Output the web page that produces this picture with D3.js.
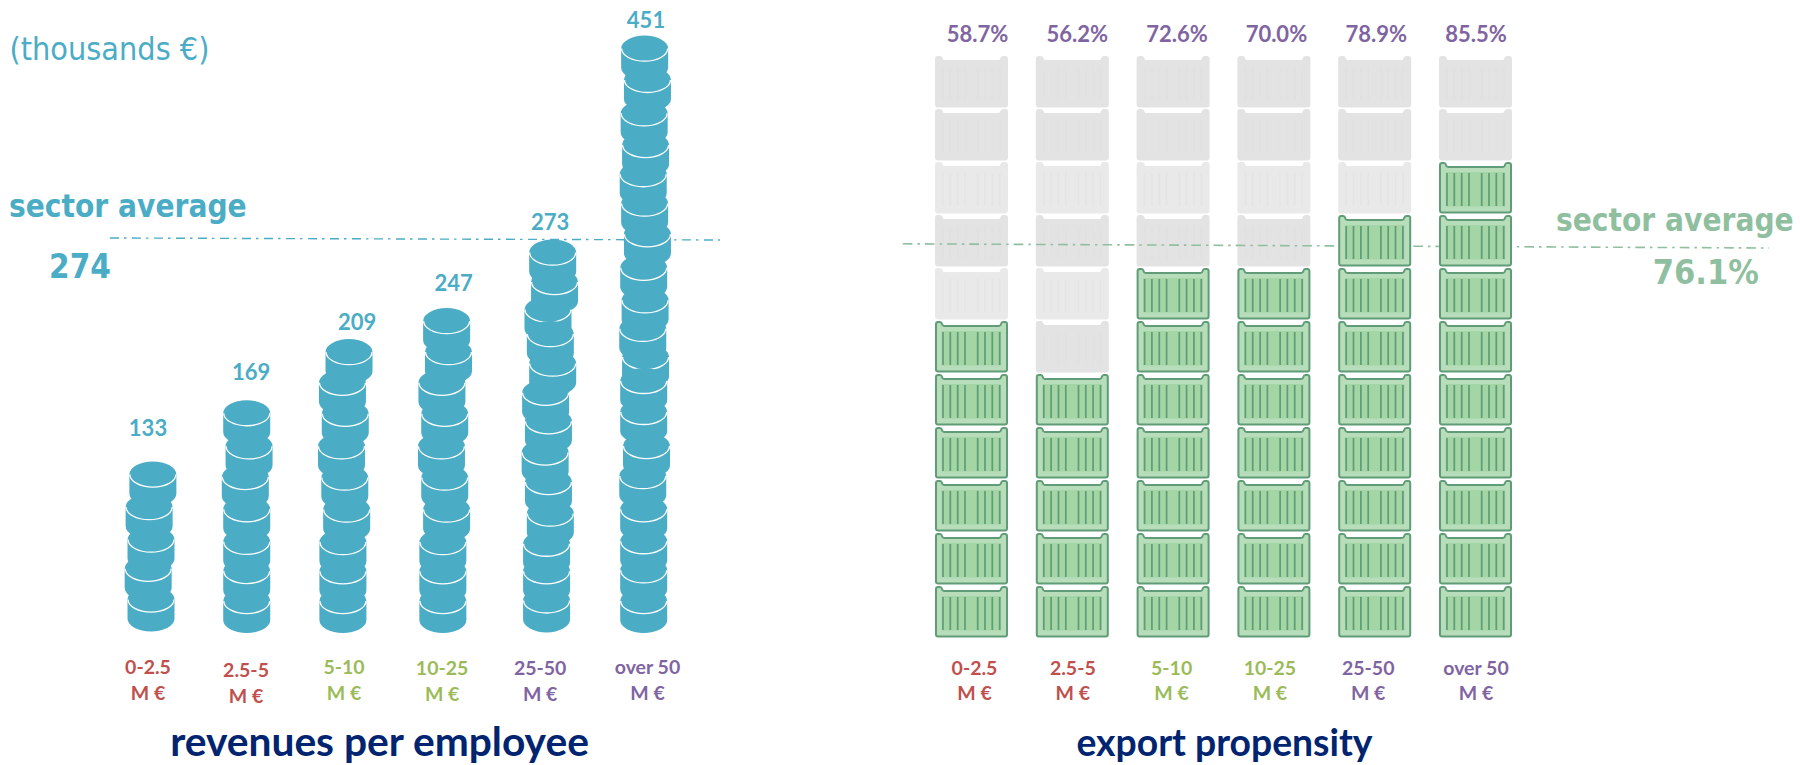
<!DOCTYPE html>
<html><head><meta charset="utf-8">
<script src="https://d3js.org/d3.v7.min.js"></script>
<style>html,body{margin:0;padding:0;background:#fff}svg{display:block}
.cal{font-family:Lato,sans-serif;font-weight:700}
.tah{font-family:"DejaVu Sans",sans-serif;font-stretch:condensed}</style>
</head><body><svg id="c" width="1800" height="765"></svg>
<script>
// ---- data ----
const categories = ["0-2.5","2.5-5","5-10","10-25","25-50","over 50"];
const unitLabel = "M €";
const revenuePerEmployee = [133,169,209,247,273,451];
const revenueAverage = 274;
const exportPropensity = [58.7,56.2,72.6,70.0,78.9,85.5];
const exportAverage = 76.1;
const containersFilled = [6,5,7,7,8,9];
const containerRows = 11;
// rise of each coin above the one below, in % of a regular coin step (bottom coin first)
const coinRise = [
 [5,99,94,105,105],
 [0,97,94,105,104,99,107],
 [0,96,94,105,103,101,105,100,99],
 [0,96,94,105,103,101,105,100,99,100],
 [2,94,89,97,102,95,101,92,94,95,79,89,95],
 [0,99,94,103,107,97,110,100,77,91,92,105,108,99,95,94,102,108,101]
];
// sideways drift of each coin, in % of a coin width
const coinDrift = [
 [0,-6,0,-4,4],
 [0,0,0,0,-3,5,0],
 [0,0,0,8,4,-3,5,-1,13],
 [0,0,0,8,4,-3,4,-2,12,8],
 [0,0,0,8,4,-3,4,-2,13,8,3,17,13],
 [0,0,0,0,-2,6,0,0,4,-2,3,0,8,2,-1,4,1,8,2]
];
const stackDrift = [0,-6,-11,-8,3,0];
const catColors = ["#C0504D","#C0504D","#9BBB59","#9BBB59","#8064A2","#8064A2"];

// ---- layout & style ----
const COIN="#4BACC6", AVG_G="#8FBF9F", NAVY="#00246F", PURPLE="#8064A2";
const coinW=47, coinRy=13, coinSide=19, coinStep=31;
const svg=d3.select("#c");

// ---- scales ----
const xL=d3.scalePoint().domain(categories).range([151,643.7]);
const xR=d3.scalePoint().domain(categories).range([971.5,1475.5]);
const yCoin=d3.scaleLinear().domain([0,100]).range([588,588-coinStep]);
const driftX=d3.scaleLinear().domain([0,100]).range([0,coinW]);
const yRev=d3.scaleLinear().domain([revenueAverage,451]).range([239,36]);
const yExp=d3.scaleLinear().domain([exportAverage,100]).range([246,56]);
const yRow=d3.scaleBand().domain(d3.range(containerRows)).range([637.5,56]).paddingInner(0.0283);

// ---- left: average line ----
svg.append("line").attr("x1",110).attr("x2",720)
  .attr("y1",yRev(revenueAverage)-1).attr("y2",yRev(revenueAverage)+1)
  .attr("stroke",COIN).attr("stroke-width",1.4).attr("stroke-dasharray","9 5 2.5 5.5");

// ---- left: coins ----
const coinPath=`M${-coinW/2},${coinRy}A${coinW/2},${coinRy} 0 0 1 ${coinW/2},${coinRy}V${coinRy+coinSide}A${coinW/2},${coinRy} 0 0 1 ${-coinW/2},${coinRy+coinSide}Z`;
const coinArc=`M${-coinW/2+0.5},${coinRy}A${coinW/2-0.5},${coinRy-0.4} 0 0 0 ${coinW/2-0.5},${coinRy}`;
const coins=categories.flatMap((cat,i)=>{
  const lv=d3.cumsum(coinRise[i]);
  return Array.from(lv,(l,k)=>({cat,i,level:l,drift:coinDrift[i][k]+stackDrift[i]})).reverse();
});
const cg=svg.append("g").selectAll("g").data(coins).join("g")
  .attr("transform",d=>`translate(${xL(d.cat)+driftX(d.drift)},${yCoin(d.level)})`);
cg.append("path").attr("d",coinPath).attr("fill",COIN);
cg.append("path").attr("d",coinArc).attr("fill","none").attr("stroke","#fff").attr("stroke-width",1.3);

// value labels above stacks
const valDx=[-3,1.5,9,7,5,2.3], valY=[436,380,330,291,230,27.7];
svg.append("g").selectAll("text").data(revenuePerEmployee).join("text").attr("class","cal")
  .attr("x",(d,i)=>xL(categories[i])+valDx[i]).attr("y",(d,i)=>valY[i])
  .attr("text-anchor","middle").attr("font-size",22).attr("fill",COIN).text(d=>d);

// category labels
function catLabels(x,dx,y1,y2){
  const g=svg.append("g").attr("class","cal").attr("text-anchor","middle").attr("font-size",19.5);
  categories.forEach((c,i)=>{
    g.append("text").attr("x",x(c)+dx[i]).attr("y",y1[i]).attr("fill",catColors[i]).text(c);
    g.append("text").attr("x",x(c)+dx[i]).attr("y",y2[i]).attr("fill",catColors[i]).text(unitLabel);
  });
}
catLabels(xL,[-3,-3.5,-4,-4.5,-5,3.8],[674,677,674,675,675,674],[699.5,702.5,699.5,701,701,699.5]);
catLabels(xR,[3,0.5,-1.5,-4,-6.5,0.5],[675,675,675,675,675,675],[700,700,700,700,700,700]);

// ---- right: containers ----
const cw=73, ch=yRow.bandwidth();
const outline=`M1,3Q1,1 3,1L5,1Q6.5,1 7,3Q7.5,5 9,5L64,5Q65.5,5 66,3Q66.5,1 68,1L70,1Q72,1 72,3L72,${ch-3}Q72,${ch-1} 70,${ch-1}L3,${ch-1}Q1,${ch-1} 1,${ch-3}Z`;
const ribs=[8,15.3,22.7,30,42.7,50,57.3,64.7];
const cells=categories.flatMap((cat,i)=>d3.range(containerRows).map(r=>({cat,i,r,on:r<containersFilled[i]})));
const pos=d=>`translate(${xR(d.cat)-cw/2},${yRow(d.r)})`;

// grey crates
const greyG=svg.append("g").selectAll("g").data(cells.filter(d=>!d.on)).join("g").attr("transform",pos);
const greyFill=r=>(r===6||r===8)?"#E9E9E9":"#E3E3E3";
greyG.append("path").attr("d",outline).attr("fill",d=>greyFill(d.r)).attr("stroke",d=>greyFill(d.r)).attr("stroke-width",2);
greyG.selectAll("line").data(ribs).join("line").attr("x1",d=>d).attr("x2",d=>d).attr("y1",11).attr("y2",44)
  .attr("stroke","#DEDEDE").attr("stroke-opacity",0.35).attr("stroke-width",1.6);

// average line passes over the grey crates and under the green ones
svg.append("line").attr("x1",902.7).attr("x2",1769)
  .attr("y1",yExp(exportAverage)-2.2).attr("y2",yExp(exportAverage)+2)
  .attr("stroke",AVG_G).attr("stroke-width",1.6).attr("stroke-dasharray","9.7 5 2.5 5");

const onCells=cells.filter(d=>d.on);
const greenG=svg.append("g").selectAll("g").data(onCells).join("g").attr("transform",pos);
greenG.append("path").attr("d",outline).attr("fill","#B7DDBB").attr("stroke","#5F9C77").attr("stroke-width",2);
greenG.append("rect").attr("x",6.7).attr("y",10).attr("width",59.5).attr("height",34.5).attr("fill","#A3D5A5");
greenG.selectAll("line").data(ribs).join("line").attr("x1",d=>d).attr("x2",d=>d).attr("y1",11).attr("y2",44)
  .attr("stroke","#5F9C77").attr("stroke-width",1.7);

// percentage labels
svg.append("g").selectAll("text").data(exportPropensity).join("text").attr("class","cal")
  .attr("x",(d,i)=>xR(categories[i])+[6,5,4,2.5,1.5,0.5][i]).attr("y",42.3)
  .attr("text-anchor","middle").attr("font-size",22).attr("fill",PURPLE).text(d=>d.toFixed(1)+"%");

// ---- text ----
function t(cls,x,y,size,fill,str,anchor,weight){
  return svg.append("text").attr("class",cls).attr("x",x).attr("y",y).attr("font-size",size)
    .attr("fill",fill).attr("text-anchor",anchor||"start").attr("font-weight",weight||null).text(str);
}
t("tah",9.5,60,32.1,COIN,"(thousands €)");
t("tah",9,216.7,31.3,COIN,"sector average","start",700);
t("tah",49,277.7,33,COIN,String(revenueAverage),"start",700);
t("tah",1556,230.7,31.3,AVG_G,"sector average","start",700);
t("tah",1652.7,284,34,AVG_G,exportAverage.toFixed(1)+"%","start",700);
t("cal",379.5,756,40.7,NAVY,"revenues per employee","middle");
t("cal",1224.5,756,37.3,NAVY,"export propensity","middle");
</script></body></html>
